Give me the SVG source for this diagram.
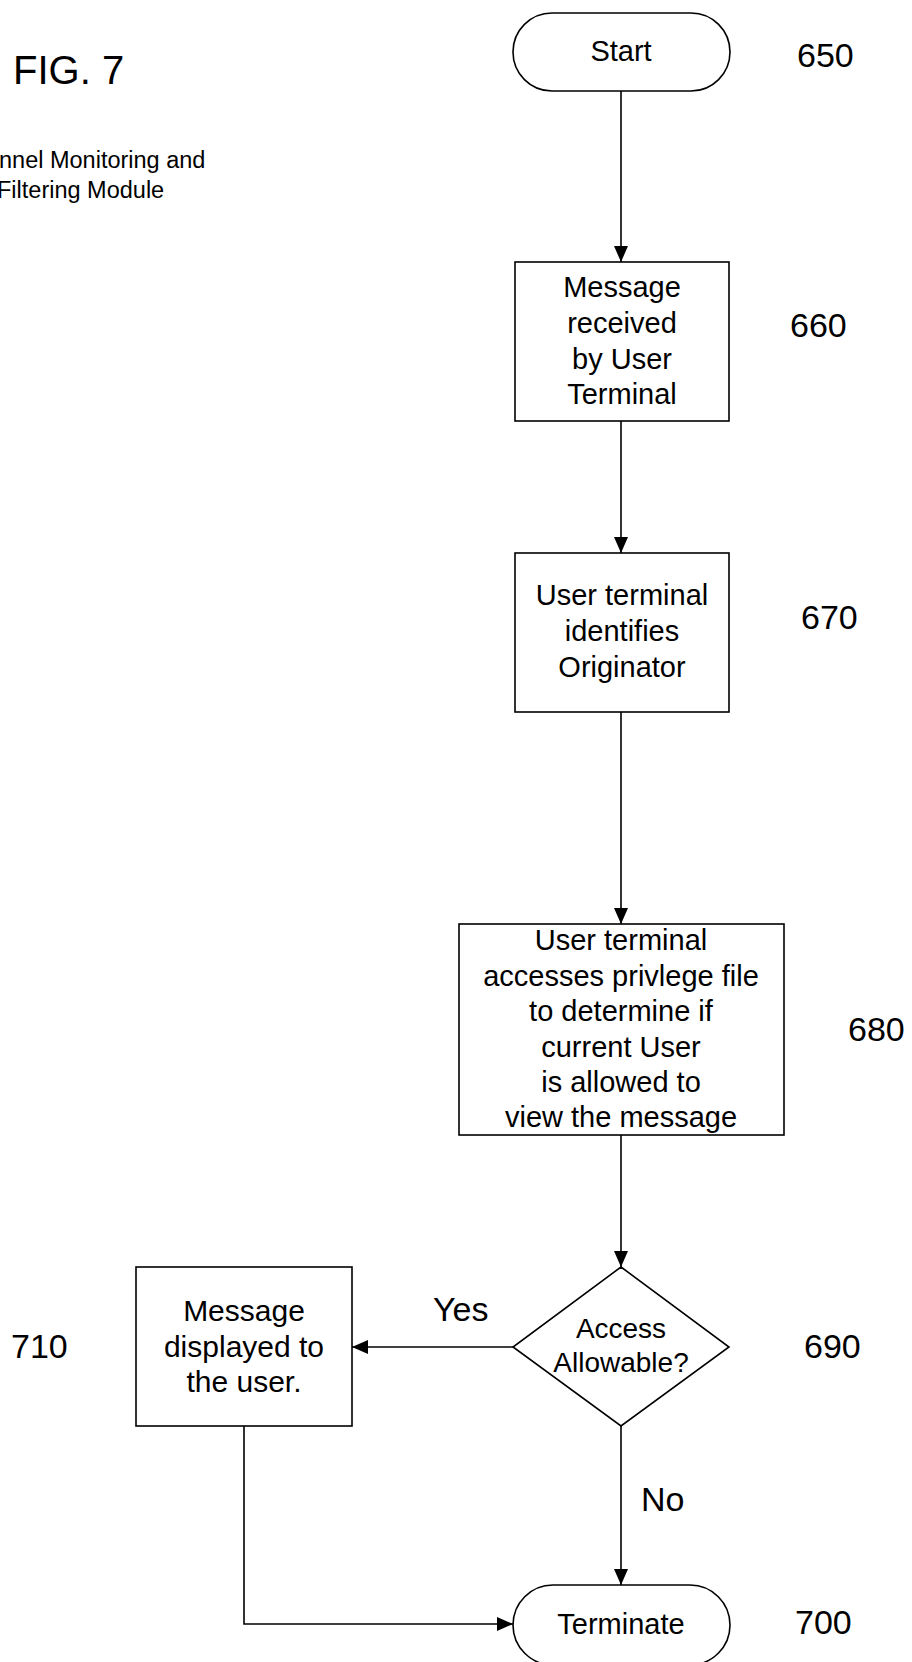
<svg xmlns="http://www.w3.org/2000/svg" width="912" height="1662" viewBox="0 0 912 1662">
<style>
.shape{fill:#fff;stroke:#000;stroke-width:1.6}
.t{font-family:"Liberation Sans",Arial,sans-serif;font-size:29px;fill:#000;text-anchor:middle}
.lbl{font-family:"Liberation Sans",Arial,sans-serif;font-size:34px;fill:#000}
.note{font-family:"Liberation Sans",Arial,sans-serif;font-size:23.5px;fill:#000}
.conn{fill:none;stroke:#000;stroke-width:1.6}
</style>
<defs>
<marker id="arr" viewBox="0 0 16 14" refX="16" refY="7" markerWidth="16" markerHeight="14" markerUnits="userSpaceOnUse" orient="auto">
<path d="M0,0 L16,7 L0,14 Z" fill="#000"/>
</marker>
</defs>
<text x="13" y="84" class="lbl" style="font-size:40px">FIG. 7</text>
<text x="-1" y="168" class="note">nnel Monitoring and</text>
<text x="-3" y="198" class="note">Filtering Module</text>

<g id="connectors">
<line class="conn" x1="621" y1="91" x2="621" y2="262" marker-end="url(#arr)"/>
<line class="conn" x1="621" y1="421" x2="621" y2="553" marker-end="url(#arr)"/>
<line class="conn" x1="621" y1="712" x2="621" y2="924" marker-end="url(#arr)"/>
<line class="conn" x1="621" y1="1135" x2="621" y2="1267" marker-end="url(#arr)"/>
<line class="conn" x1="513" y1="1347" x2="352" y2="1347" marker-end="url(#arr)"/>
<line class="conn" x1="621" y1="1426" x2="621" y2="1585" marker-end="url(#arr)"/>
<polyline class="conn" points="244,1426 244,1624 513,1624" marker-end="url(#arr)"/>
<text x="433" y="1321" class="lbl" style="font-size:34px">Yes</text>
<text x="641" y="1511" class="lbl" style="font-size:34px">No</text>
</g>

<g id="n650">
<rect class="shape" x="513" y="13" width="217" height="78" rx="39" ry="39"/>
<text class="t" x="621" y="61">Start</text>
<text class="lbl" x="797" y="67">650</text>
</g>
<g id="n660">
<rect class="shape" x="515" y="262" width="214" height="159"/>
<text class="t" x="622" y="297">Message</text>
<text class="t" x="622" y="333">received</text>
<text class="t" x="622" y="369">by User</text>
<text class="t" x="622" y="404">Terminal</text>
<text class="lbl" x="790" y="337">660</text>
</g>
<g id="n670">
<rect class="shape" x="515" y="553" width="214" height="159"/>
<text class="t" x="622" y="605">User terminal</text>
<text class="t" x="622" y="641">identifies</text>
<text class="t" x="622" y="677">Originator</text>
<text class="lbl" x="801" y="629">670</text>
</g>
<g id="n680">
<rect class="shape" x="459" y="924" width="325" height="211"/>
<text class="t" x="621" y="950">User terminal</text>
<text class="t" x="621" y="986">accesses privlege file</text>
<text class="t" x="621" y="1021">to determine if</text>
<text class="t" x="621" y="1057">current User</text>
<text class="t" x="621" y="1092">is allowed to</text>
<text class="t" x="621" y="1127">view the message</text>
<text class="lbl" x="848" y="1041">680</text>
</g>
<g id="n690">
<polygon class="shape" points="621,1267 729,1347 621,1426 513,1347"/>
<text class="t" x="621" y="1338" style="font-size:28px">Access</text>
<text class="t" x="621" y="1372" style="font-size:28px">Allowable?</text>
<text class="lbl" x="804" y="1358">690</text>
</g>
<g id="n710">
<rect class="shape" x="136" y="1267" width="216" height="159"/>
<text class="t" x="244" y="1321" style="font-size:30px">Message</text>
<text class="t" x="244" y="1357" style="font-size:30px">displayed to</text>
<text class="t" x="244" y="1392" style="font-size:30px">the user.</text>
<text class="lbl" x="11" y="1358">710</text>
</g>
<g id="n700">
<rect class="shape" x="513" y="1585" width="217" height="80" rx="40" ry="40"/>
<text class="t" x="621" y="1634">Terminate</text>
<text class="lbl" x="795" y="1634">700</text>
</g>
</svg>
